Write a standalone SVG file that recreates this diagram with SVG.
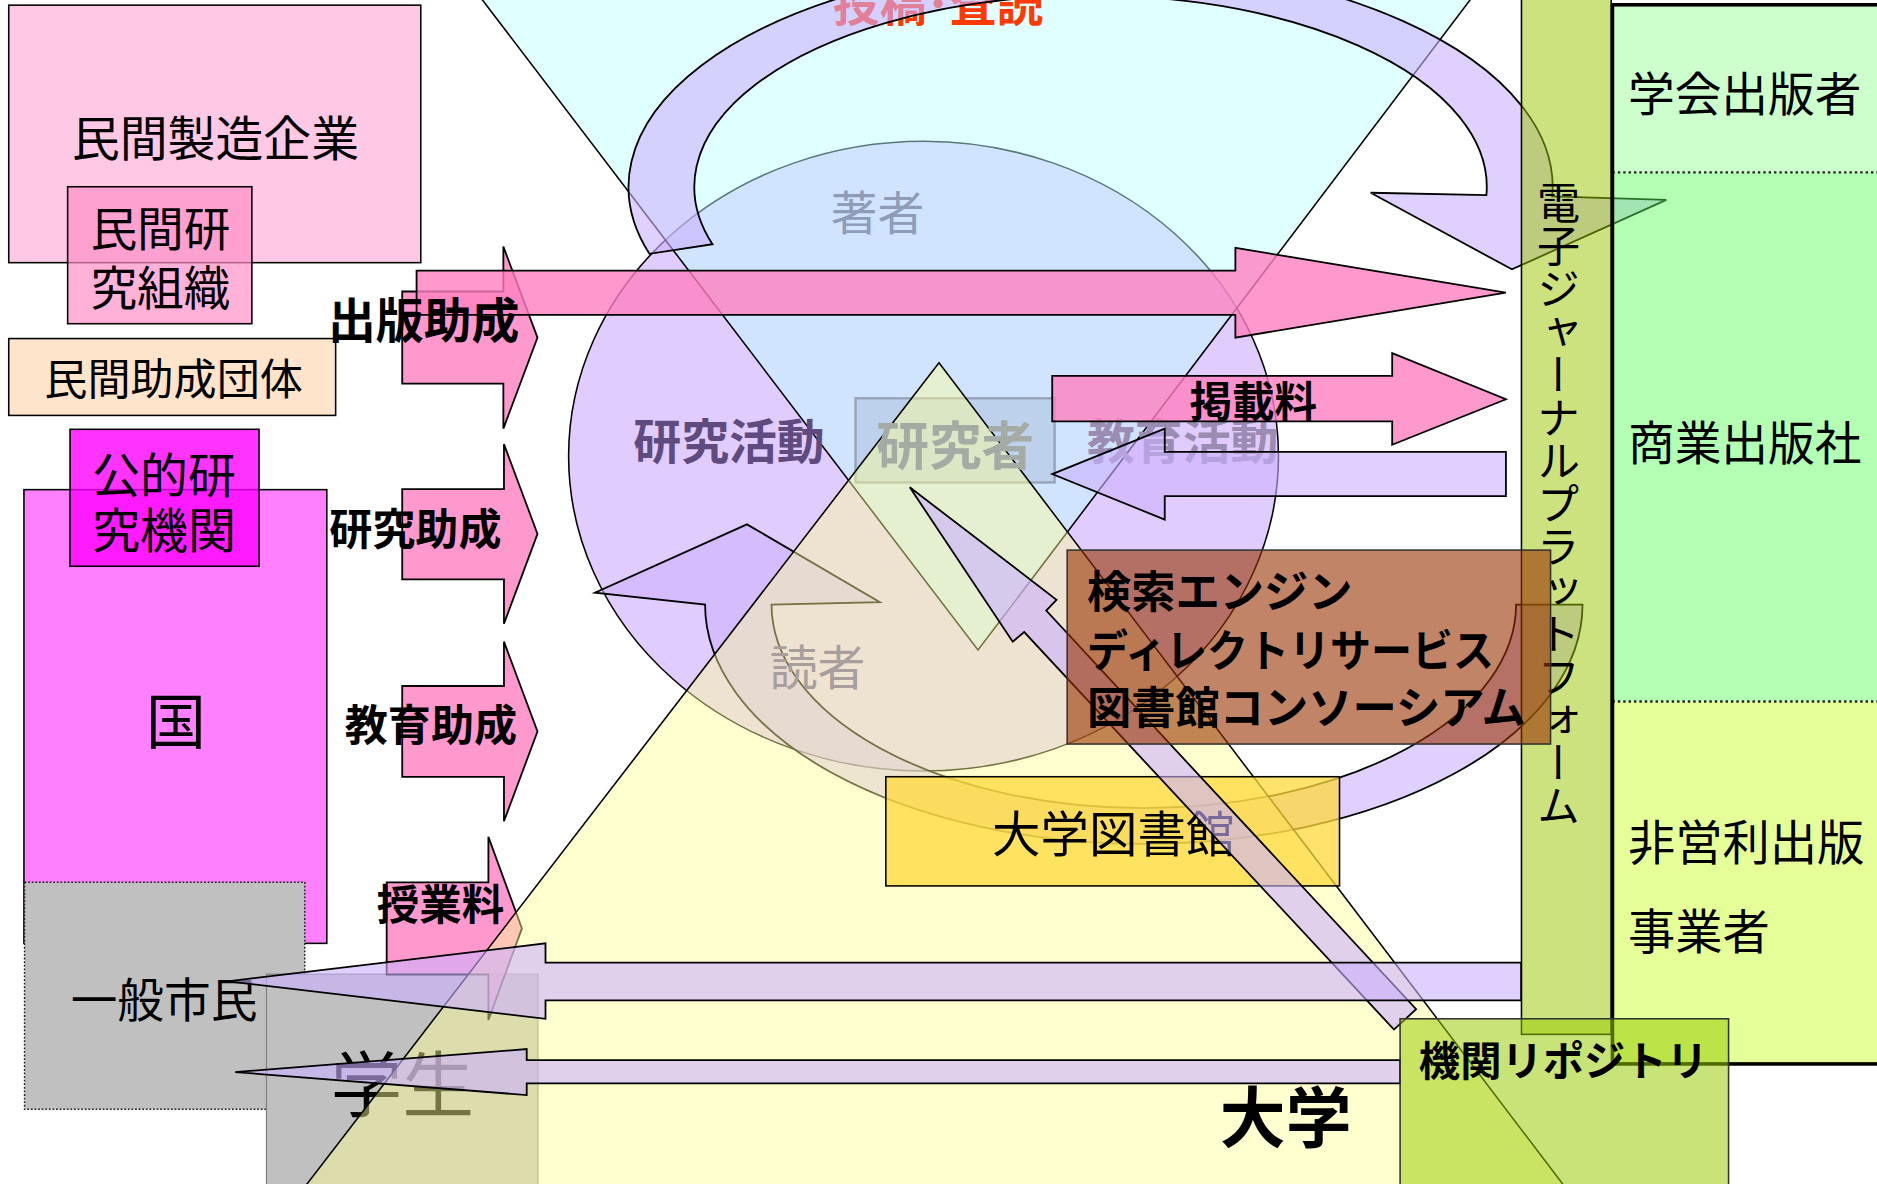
<svg xmlns="http://www.w3.org/2000/svg" width="1877" height="1184" viewBox="0 0 1877 1184">
<style>
text{font-family:"Noto Sans CJK JP","Noto Sans CJK SC","Noto Sans",sans-serif;dominant-baseline:central;fill:#000}
.b{font-weight:bold}
.m{text-anchor:middle}
.box{stroke:#000;stroke-width:1.3}
.pur{fill:#CCB0FF;fill-opacity:.6;stroke:#000;stroke-width:1.5}
.pink{fill:#FF80C0;fill-opacity:.8;stroke:#000;stroke-width:1.5}
.dot{stroke:#222;stroke-width:2;stroke-dasharray:2 2.5;fill:none}
</style>
<rect width="1877" height="1184" fill="#fff"/>
<g transform="scale(1.19707,1.19717)">
  <g id="node-minkan-seizo">
    <rect x="7.3" y="4.3" width="344.2" height="215.1" fill="#FFC8E4" class="box"/>
    <text x="180" y="113" font-size="40" class="m">民間製造企業</text>
  </g>
  <g id="node-minkan-kenkyu">
    <rect x="56.5" y="156" width="153.9" height="114.4" fill="#FF90C8" fill-opacity=".7" class="box"/>
    <text x="134" y="188.5" font-size="39" class="m">民間研</text>
    <text x="134" y="238" font-size="39" class="m">究組織</text>
  </g>
  <g id="node-minkan-josei">
    <rect x="7.3" y="282.8" width="273.1" height="64.2" fill="#FFE4CC" class="box"/>
    <text x="145" y="314" font-size="36" class="m">民間助成団体</text>
  </g>
  <g id="node-kuni">
    <rect x="20" y="409" width="253" height="379" fill="#FF80FF" class="box"/>
    <text x="147" y="600" font-size="50" class="m">国</text>
  </g>
  <g id="node-koteki">
    <rect x="58.5" y="358.6" width="157.9" height="114.4" fill="#FF00FF" fill-opacity=".8" class="box"/>
    <text x="137" y="394" font-size="40" class="m">公的研</text>
    <text x="137" y="440" font-size="40" class="m">究機関</text>
  </g>
  <g id="node-shimin">
    <rect x="20.5" y="737" width="234.1" height="189.6" fill="#C0C0C0" stroke="#222" stroke-width="1.2" stroke-dasharray="1.5 1.5"/>
    <text x="137" y="832.6" font-size="39" class="m">一般市民</text>
  </g>

  <g id="node-research-circle">
    <ellipse cx="771.5" cy="381" rx="296.5" ry="263" fill="#E0CCFF" stroke="#000" stroke-width="1.3"/>
  </g>
  <g id="node-author-triangle">
    <polygon points="395.4,-10 1235.6,-10 817,543" fill="#BDFFFF" fill-opacity=".47" stroke="#000" stroke-width="1.3"/>
  </g>
  <g id="node-researcher">
    <rect x="714.7" y="332.7" width="166.3" height="70.3" fill="#707C96" fill-opacity=".18" stroke="#97A3B8" stroke-width="2"/>
  </g>
  <g id="labels-circle">
    <text x="783.7" y="0" font-size="39" class="m b" style="fill:#FF3A00">投稿･査読</text>
    <text x="733" y="175" font-size="39" class="m" style="fill:#8E9CB8">著者</text>
    <text x="609" y="366" font-size="40" class="m b" style="fill:#5F4B80">研究活動</text>
    <text x="988" y="366" font-size="40" class="m b" style="fill:#9A8CB2">教育活動</text>
  </g>

  <g id="connectors-lower-cycle">
    <path class="pur" d="M1322 505 A366.5 200 0 0 1 589 505 L497 495 L624 438 L735 503 L644.5 505 A311 170 0 0 0 1266.5 505 Z"/>
  </g>
  <g id="node-gakusei">
    <rect x="222.6" y="813.7" width="226.8" height="190" fill="#C0C0C0" stroke="#808080" stroke-width="1"/>
    <text x="336" y="902" font-size="60" class="m">学生</text>
  </g>
  <g id="connectors-tuition">
    <path class="pink" d="M323 737 L408 737 L408 699 L436 775.5 L408 852 L408 814 L323 814 Z"/>
  </g>
  <g id="node-reader-triangle">
    <polygon points="784.4,303 1313.8,1000 248,1000" fill="#FFFF96" fill-opacity=".45" stroke="#000" stroke-width="1.3"/>
  </g>
  <g id="labels-center">
    <text x="798" y="369" font-size="44" class="m b" style="fill:#A3ABA4">研究者</text>
    <text x="683" y="555" font-size="40" class="m" style="fill:#A89E9E">読者</text>
  </g>

  <g id="connectors-upper-cycle">
    <path class="pur" d="M542.5 212 A386 188 0 1 1 1296.7 164 L1392 167 L1263 225 L1145 161 L1241.7 163 A331 160 0 1 0 595.2 204 Z"/>
  </g>

  <g id="node-platform">
    <rect x="1271" y="-5" width="75" height="869" fill="#99C500" fill-opacity=".5" stroke="#000" stroke-width="1.3"/>
  </g>
  <g id="node-publishers">
    <rect x="1347" y="4" width="260" height="140" fill="#8EFF8E" fill-opacity=".45"/>
    <rect x="1347" y="144" width="260" height="442" fill="#57FF56" fill-opacity=".45"/>
    <rect x="1347" y="586" width="260" height="302.7" fill="#C6FF1D" fill-opacity=".45"/>
    <line x1="1347" y1="144" x2="1600" y2="144" class="dot"/>
    <line x1="1347" y1="586" x2="1600" y2="586" class="dot"/>
    <rect x="1347" y="4" width="260" height="884.7" fill="none" stroke="#000" stroke-width="3"/>
    <text x="1360" y="76" font-size="39">学会出版者</text>
    <text x="1360" y="367" font-size="39">商業出版社</text>
    <text x="1360" y="701" font-size="39.5">非営利出版</text>
    <text x="1360" y="776" font-size="39.5">事業者</text>
  </g>
  <g id="label-platform">
    <text x="1302" y="151" font-size="36" style="writing-mode:vertical-rl">電子ジャーナルプラットフォーム</text>
  </g>

  <g id="connectors-funding">
    <path class="pink" d="M336 243.5 L420.5 243.5 L420.5 206 L449 282 L420.5 358 L420.5 320.5 L336 320.5 Z"/>
    <path class="pink" d="M348 226 L1032 226 L1032 207 L1258 244.5 L1032 282 L1032 263 L348 263 Z"/>
    <path class="pink" d="M336 408.5 L421 408.5 L421 371 L449 446 L421 521 L421 484 L336 484 Z"/>
    <path class="pink" d="M336 573 L421 573 L421 536 L449 611 L421 686 L421 649 L336 649 Z"/>
    <path class="pink" d="M879 314 L1163 314 L1163 295 L1258 333.5 L1163 371.5 L1163 352 L879 352 Z"/>
    <path class="pur" d="M1258 377.5 L973 377.5 L973 358 L879 396 L973 434 L973 414.5 L1258 414.5 Z"/>
  </g>
  <g id="labels-funding">
    <text x="354" y="265" font-size="40" class="m b">出版助成</text>
    <text x="347" y="439" font-size="36" class="m b">研究助成</text>
    <text x="360" y="603" font-size="36" class="m b">教育助成</text>
    <text x="368" y="753" font-size="35.5" class="m b">授業料</text>
    <text x="1047" y="333" font-size="35.5" class="m b">掲載料</text>
  </g>

  <g id="node-library">
    <rect x="740" y="648.8" width="379" height="91.2" fill="#FFD83A" fill-opacity=".75" class="box"/>
    <text x="930" y="694" font-size="40.5" class="m">大学図書館</text>
  </g>
  <g id="connectors-repository-up">
    <path class="pur" d="M760 407 L882.6 501 L874 510 L1183 843 L1164.5 860 L855.6 528 L846 536 Z"/>
  </g>
  <g id="node-search">
    <rect x="891.5" y="459.5" width="403.8" height="162" fill="#983200" fill-opacity=".6" stroke="#333" stroke-width="1.3"/>
    <text x="908" y="492" font-size="37" class="b">検索エンジン</text>
    <text x="908" y="541" font-size="37" class="b" textLength="340" lengthAdjust="spacingAndGlyphs">ディレクトリサービス</text>
    <text x="908" y="589" font-size="37" class="b">図書館コンソーシアム</text>
  </g>
  <g id="connectors-to-readers">
    <path class="pur" d="M1270.7 804 L455.7 804 L455.7 788 L190 819.7 L455.7 851 L455.7 835.6 L1270.7 835.6 Z"/>
    <path class="pur" d="M1169.6 885.5 L440 885.5 L440 876.3 L196.5 895.5 L440 914.7 L440 905 L1169.6 905 Z"/>
  </g>
  <g id="node-repository">
    <rect x="1169.6" y="851" width="274.4" height="150" fill="#97CC00" fill-opacity=".53" stroke="#333" stroke-width="1.3"/>
    <text x="1306" y="884" font-size="34.5" class="m b">機関リポジトリ</text>
  </g>
  <g id="label-university">
    <text x="1074" y="930" font-size="55" class="m b">大学</text>
  </g>
</g>
</svg>
